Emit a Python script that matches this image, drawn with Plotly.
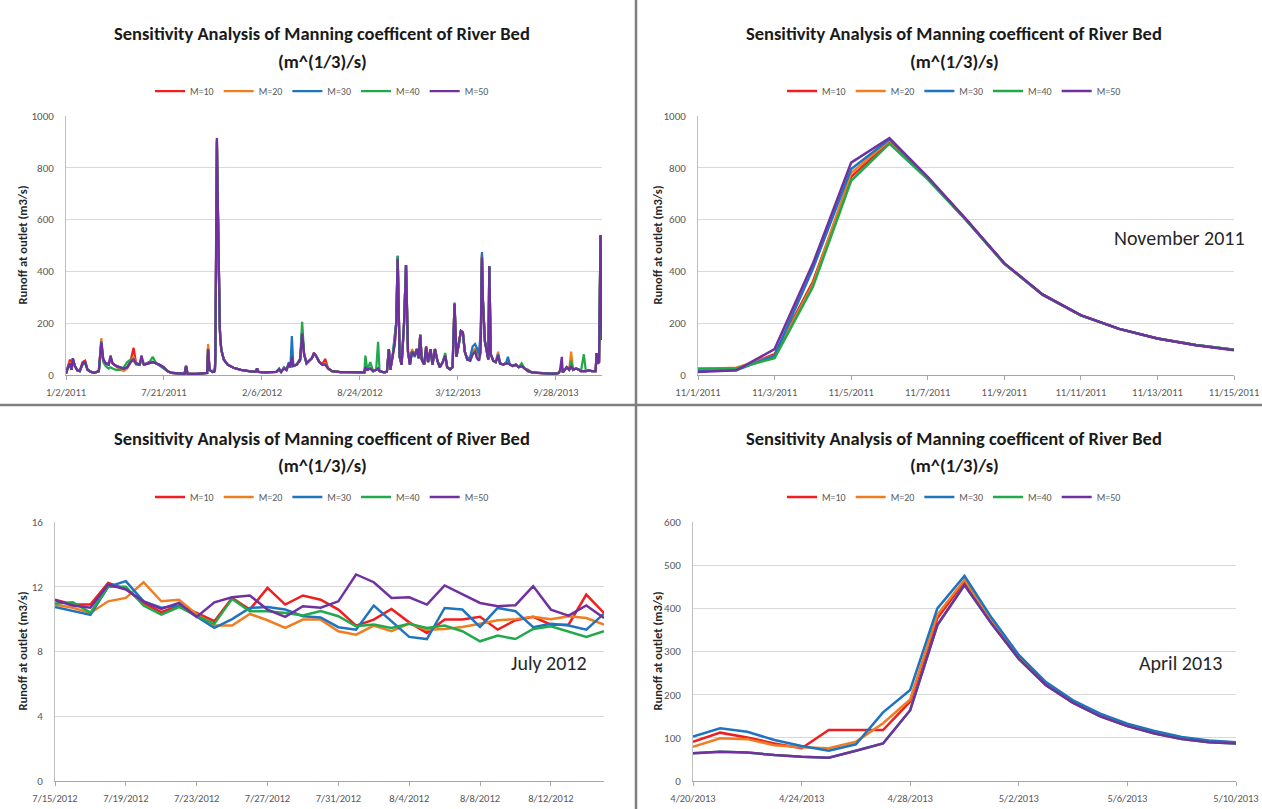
import plotly.graph_objects as go

W, H = 1262, 809

series_names = ["M=10", "M=20", "M=30", "M=40", "M=50"]
series_colors = ["#f01e1e", "#ef7d22", "#1f74c0", "#22a94b", "#7030a0"]

title_line1 = "Sensitivity Analysis of Manning coefficent of River Bed"
title_line2 = "(m^(1/3)/s)"
y_title = "Runoff at outlet (m3/s)"
panel_notes = ["", "November 2011", "July 2012", "April 2013"]

# ---------------- Panel 1: whole record 2011-2013 ----------------
p1_dates = [
    "2011-01-02", "2011-01-06", "2011-01-10", "2011-01-13", "2011-01-16", "2011-01-20", "2011-01-25", "2011-01-30", "2011-02-05", "2011-02-10",
    "2011-02-15", "2011-02-22", "2011-03-01", "2011-03-10", "2011-03-15", "2011-03-19", "2011-03-24", "2011-03-30", "2011-04-03", "2011-04-07",
    "2011-04-14", "2011-04-22", "2011-04-30", "2011-05-07", "2011-05-14", "2011-05-20", "2011-05-25", "2011-06-01", "2011-06-05", "2011-06-10",
    "2011-06-20", "2011-06-28", "2011-07-05", "2011-07-12", "2011-07-20", "2011-07-28", "2011-08-05", "2011-08-20", "2011-09-01", "2011-09-04",
    "2011-09-07", "2011-09-25", "2011-10-10", "2011-10-17", "2011-10-19", "2011-10-22", "2011-10-28", "2011-11-01", "2011-11-02", "2011-11-03",
    "2011-11-04", "2011-11-05", "2011-11-06", "2011-11-07", "2011-11-08", "2011-11-09", "2011-11-10", "2011-11-11", "2011-11-12", "2011-11-13",
    "2011-11-14", "2011-11-15", "2011-11-20", "2011-11-28", "2011-12-10", "2011-12-25", "2012-01-10", "2012-01-24", "2012-01-27", "2012-01-30",
    "2012-02-12", "2012-02-28", "2012-03-06", "2012-03-12", "2012-03-16", "2012-03-22", "2012-03-27", "2012-04-01", "2012-04-04", "2012-04-07",
    "2012-04-10", "2012-04-17", "2012-04-24", "2012-04-28", "2012-05-02", "2012-05-07", "2012-05-13", "2012-05-18", "2012-05-22", "2012-05-26",
    "2012-06-02", "2012-06-08", "2012-06-14", "2012-06-20", "2012-06-28", "2012-07-06", "2012-07-15", "2012-08-01", "2012-08-15", "2012-08-28",
    "2012-09-02", "2012-09-04", "2012-09-08", "2012-09-14", "2012-09-20", "2012-09-26", "2012-09-30", "2012-10-03", "2012-10-12", "2012-10-18",
    "2012-10-22", "2012-10-25", "2012-10-30", "2012-11-03", "2012-11-06", "2012-11-09", "2012-11-13", "2012-11-17", "2012-11-22", "2012-11-26",
    "2012-11-30", "2012-12-04", "2012-12-08", "2012-12-14", "2012-12-18", "2012-12-22", "2012-12-25", "2012-12-28", "2013-01-02", "2013-01-06",
    "2013-01-10", "2013-01-15", "2013-01-19", "2013-01-24", "2013-01-29", "2013-02-03", "2013-02-09", "2013-02-14", "2013-02-18", "2013-02-24",
    "2013-03-01", "2013-03-05", "2013-03-09", "2013-03-14", "2013-03-18", "2013-03-22", "2013-03-26", "2013-03-31", "2013-04-06", "2013-04-11",
    "2013-04-16", "2013-04-20", "2013-04-24", "2013-04-27", "2013-04-28", "2013-04-29", "2013-04-30", "2013-05-02", "2013-05-04", "2013-05-06",
    "2013-05-10", "2013-05-13", "2013-05-15", "2013-05-18", "2013-05-23", "2013-05-28", "2013-06-02", "2013-06-06", "2013-06-12", "2013-06-18",
    "2013-06-22", "2013-06-26", "2013-07-02", "2013-07-08", "2013-07-14", "2013-07-20", "2013-07-26", "2013-08-02", "2013-08-10", "2013-08-20",
    "2013-09-01", "2013-09-15", "2013-09-28", "2013-10-03", "2013-10-06", "2013-10-10", "2013-10-12", "2013-10-16", "2013-10-20", "2013-10-25",
    "2013-10-29", "2013-11-02", "2013-11-08", "2013-11-14", "2013-11-18", "2013-11-24", "2013-11-28", "2013-12-04", "2013-12-10", "2013-12-18",
    "2013-12-20", "2013-12-22", "2013-12-25", "2013-12-28", "2013-12-31",
]
p1_m10 = [
    5, 35, 60, 20, 60, 35, 18, 15, 50, 55,
    20, 12, 8, 15, 120, 60, 45, 45, 60, 45,
    35, 25, 20, 30, 55, 105, 45, 40, 60, 40,
    50, 50, 45, 40, 30, 15, 8, 5, 5, 35,
    5, 4, 5, 8, 105, 20, 12, 18, 22, 80,
    360, 765, 900, 760, 600, 430, 310, 230, 178, 141,
    116, 97, 60, 40, 28, 20, 15, 12, 25, 12,
    10, 10, 12, 22, 12, 25, 20, 45, 30, 75,
    35, 40, 60, 165, 80, 45, 55, 65, 85, 75,
    50, 40, 62, 25, 15, 12, 11, 11, 10, 8,
    10, 30, 20, 25, 15, 20, 25, 15, 10, 12,
    100, 20, 80, 120, 200, 450, 70, 40, 200, 425,
    90, 40, 90, 75, 100, 65, 155, 60, 40, 110,
    50, 100, 40, 100, 55, 30, 50, 75, 30, 22,
    30, 275, 70, 120, 170, 165, 90, 60, 60, 90,
    100, 92, 76, 118, 184, 377, 462, 286, 184, 130,
    89, 60, 420, 80, 55, 50, 75, 45, 40, 45,
    45, 40, 35, 40, 30, 35, 25, 20, 10, 8,
    6, 5, 5, 8, 15, 30, 10, 20, 30, 20,
    35, 20, 25, 20, 15, 15, 15, 18, 15, 15,
    85, 45, 50, 540, 135,
]
p1_m20 = [
    5, 30, 50, 20, 60, 35, 18, 15, 45, 50,
    20, 12, 8, 15, 142, 60, 45, 40, 60, 45,
    35, 20, 15, 25, 50, 70, 45, 40, 60, 40,
    45, 50, 45, 40, 30, 15, 8, 5, 5, 35,
    5, 4, 5, 8, 120, 20, 12, 22, 28, 75,
    350, 780, 905, 760, 600, 430, 310, 230, 178, 141,
    116, 97, 60, 40, 28, 20, 15, 12, 25, 12,
    10, 10, 12, 22, 12, 25, 20, 45, 30, 75,
    35, 40, 60, 165, 80, 45, 55, 65, 85, 75,
    50, 40, 45, 25, 15, 12, 11, 11, 10, 8,
    10, 30, 20, 25, 15, 20, 25, 15, 10, 12,
    100, 20, 80, 120, 200, 450, 70, 40, 200, 425,
    90, 40, 100, 80, 100, 65, 155, 60, 40, 110,
    50, 100, 40, 100, 55, 30, 50, 80, 30, 22,
    30, 275, 70, 120, 170, 165, 90, 60, 60, 90,
    100, 80, 78, 134, 189, 385, 466, 287, 184, 130,
    89, 60, 420, 80, 55, 50, 90, 45, 40, 45,
    45, 40, 35, 40, 30, 35, 25, 15, 10, 8,
    6, 5, 5, 8, 15, 30, 10, 20, 30, 20,
    90, 20, 25, 20, 15, 15, 15, 18, 15, 15,
    85, 45, 50, 540, 135,
]
p1_m30 = [
    5, 30, 45, 20, 65, 35, 18, 15, 45, 50,
    20, 12, 8, 15, 130, 60, 45, 40, 70, 45,
    35, 30, 25, 30, 50, 60, 45, 40, 60, 40,
    45, 50, 45, 35, 25, 15, 8, 5, 5, 35,
    5, 4, 5, 8, 100, 20, 12, 15, 18, 75,
    410, 795, 910, 762, 600, 430, 310, 230, 178, 141,
    116, 97, 60, 40, 28, 20, 15, 12, 25, 12,
    10, 10, 12, 25, 12, 30, 20, 50, 30, 150,
    35, 40, 55, 170, 80, 45, 55, 65, 80, 75,
    50, 40, 40, 25, 15, 12, 11, 11, 10, 8,
    10, 30, 20, 25, 15, 20, 25, 15, 10, 12,
    100, 20, 80, 150, 200, 460, 70, 40, 200, 425,
    90, 40, 85, 70, 100, 65, 155, 60, 40, 100,
    50, 100, 40, 100, 55, 30, 50, 75, 30, 22,
    30, 280, 70, 120, 170, 165, 90, 60, 70, 110,
    120, 103, 81, 159, 211, 400, 475, 290, 186, 133,
    92, 60, 420, 80, 55, 50, 80, 45, 40, 45,
    70, 40, 35, 40, 30, 35, 25, 15, 10, 8,
    6, 5, 5, 8, 15, 30, 10, 20, 30, 20,
    35, 20, 25, 20, 15, 15, 15, 18, 15, 15,
    85, 45, 50, 540, 135,
]
p1_m40 = [
    5, 28, 40, 20, 60, 35, 18, 15, 40, 45,
    20, 12, 8, 15, 110, 50, 35, 25, 30, 25,
    20, 20, 30, 50, 60, 55, 40, 40, 55, 40,
    45, 70, 45, 40, 30, 15, 8, 5, 5, 35,
    5, 4, 5, 8, 95, 20, 12, 25, 25, 65,
    340, 750, 893, 755, 598, 430, 310, 230, 178, 141,
    116, 97, 60, 40, 28, 20, 15, 12, 25, 12,
    10, 10, 12, 20, 12, 28, 20, 40, 30, 70,
    35, 40, 65, 205, 80, 45, 55, 65, 80, 75,
    50, 40, 40, 25, 15, 12, 11, 11, 10, 8,
    10, 75, 20, 50, 15, 20, 128, 15, 10, 12,
    100, 20, 80, 150, 200, 460, 70, 40, 200, 425,
    90, 40, 90, 80, 100, 65, 155, 60, 40, 105,
    50, 100, 40, 100, 55, 30, 50, 85, 30, 22,
    30, 270, 70, 120, 170, 165, 90, 60, 55, 80,
    90, 65, 56, 87, 164, 361, 454, 283, 184, 130,
    89, 60, 420, 80, 55, 50, 70, 45, 40, 45,
    45, 40, 35, 40, 30, 45, 25, 15, 10, 8,
    6, 5, 5, 8, 15, 30, 10, 20, 30, 20,
    55, 20, 25, 20, 15, 80, 15, 18, 15, 15,
    85, 45, 50, 540, 135,
]
p1_m50 = [
    5, 30, 45, 20, 65, 35, 18, 15, 45, 50,
    20, 12, 8, 15, 125, 60, 45, 40, 75, 45,
    35, 30, 25, 30, 50, 60, 45, 40, 75, 40,
    45, 50, 45, 40, 30, 15, 8, 5, 5, 35,
    5, 4, 5, 8, 100, 20, 12, 12, 18, 100,
    430, 820, 915, 765, 602, 430, 310, 230, 178, 141,
    116, 97, 60, 40, 28, 20, 15, 12, 25, 12,
    10, 10, 12, 22, 12, 25, 20, 45, 30, 70,
    35, 40, 60, 160, 80, 45, 55, 65, 85, 75,
    50, 40, 40, 25, 15, 12, 11, 11, 10, 8,
    10, 30, 20, 25, 15, 20, 25, 15, 10, 12,
    100, 20, 80, 120, 200, 450, 70, 40, 200, 425,
    90, 40, 90, 75, 100, 65, 155, 60, 40, 110,
    50, 100, 40, 100, 55, 30, 50, 75, 30, 22,
    30, 275, 70, 120, 170, 165, 90, 60, 55, 80,
    90, 65, 56, 87, 164, 361, 454, 283, 184, 130,
    89, 60, 420, 80, 55, 50, 75, 45, 40, 45,
    45, 40, 35, 40, 30, 35, 25, 15, 10, 8,
    6, 5, 5, 8, 15, 70, 10, 20, 30, 20,
    35, 20, 25, 20, 15, 15, 15, 18, 15, 15,
    85, 45, 50, 540, 135,
]
p1_tickvals = ["2011-01-02", "2011-07-21", "2012-02-06", "2012-08-24", "2013-03-12", "2013-09-28"]
p1_ticktext = ["1/2/2011", "7/21/2011", "2/6/2012", "8/24/2012", "3/12/2013", "9/28/2013"]

# ---------------- Panel 2: November 2011 ----------------
p2_dates = ["2011-11-01", "2011-11-02", "2011-11-03", "2011-11-04", "2011-11-05", "2011-11-06", "2011-11-07", "2011-11-08",
            "2011-11-09", "2011-11-10", "2011-11-11", "2011-11-12", "2011-11-13", "2011-11-14", "2011-11-15"]
p2_m10 = [18, 22, 80, 360, 765, 900, 760, 600, 430, 310, 230, 178, 141, 116, 97]
p2_m20 = [22, 28, 75, 350, 780, 905, 760, 600, 430, 310, 230, 178, 141, 116, 97]
p2_m30 = [15, 18, 75, 410, 795, 910, 762, 600, 430, 310, 230, 178, 141, 116, 97]
p2_m40 = [25, 25, 65, 340, 750, 893, 755, 598, 430, 310, 230, 178, 141, 116, 97]
p2_m50 = [12, 18, 100, 430, 820, 915, 765, 602, 432, 311, 231, 178, 141, 115, 96]
p2_tickvals = ["2011-11-01", "2011-11-03", "2011-11-05", "2011-11-07", "2011-11-09", "2011-11-11", "2011-11-13", "2011-11-15"]
p2_ticktext = ["11/1/2011", "11/3/2011", "11/5/2011", "11/7/2011", "11/9/2011", "11/11/2011", "11/13/2011", "11/15/2011"]

# ---------------- Panel 3: July 2012 ----------------
p3_dates = ["2012-07-15", "2012-07-16", "2012-07-17", "2012-07-18", "2012-07-19", "2012-07-20", "2012-07-21", "2012-07-22",
            "2012-07-23", "2012-07-24", "2012-07-25", "2012-07-26", "2012-07-27", "2012-07-28", "2012-07-29", "2012-07-30",
            "2012-07-31", "2012-08-01", "2012-08-02", "2012-08-03", "2012-08-04", "2012-08-05", "2012-08-06", "2012-08-07",
            "2012-08-08", "2012-08-09", "2012-08-10", "2012-08-11", "2012-08-12", "2012-08-13", "2012-08-14", "2012-08-15"]
p3_m10 = [11.2, 10.9, 10.9, 12.24, 11.87, 11.0, 10.43, 10.84, 10.38, 9.87, 11.31, 10.59, 11.93, 10.9, 11.46, 11.2,
          10.59, 9.6, 9.97, 10.63, 9.8, 9.15, 9.97, 9.97, 10.14, 9.35, 9.93, 10.14, 9.66, 9.66, 11.52, 10.38]
p3_m20 = [10.9, 10.7, 10.38, 11.1, 11.31, 12.28, 11.1, 11.2, 10.3, 9.6, 9.6, 10.32, 9.93, 9.46, 9.97, 9.97,
          9.25, 9.04, 9.6, 9.25, 9.72, 9.35, 9.39, 9.52, 9.72, 9.93, 10.0, 10.14, 10.0, 10.18, 10.07, 9.66]
p3_m30 = [10.75, 10.5, 10.26, 12.0, 12.35, 11.1, 10.7, 10.84, 10.13, 9.46, 10.0, 10.69, 10.75, 10.59, 10.18, 10.1,
          9.5, 9.35, 10.84, 9.87, 8.9, 8.77, 10.69, 10.59, 9.52, 10.69, 10.49, 9.5, 9.72, 9.6, 9.35, 10.34]
p3_m40 = [10.96, 11.04, 10.4, 12.0, 12.0, 10.84, 10.28, 10.75, 10.2, 9.72, 11.25, 10.49, 10.49, 10.38, 10.22, 10.5,
          10.18, 9.56, 9.66, 9.46, 9.72, 9.46, 9.6, 9.25, 8.63, 8.98, 8.77, 9.39, 9.56, 9.25, 8.9, 9.25]
p3_m50 = [11.17, 10.84, 10.7, 12.14, 11.83, 11.1, 10.63, 11.0, 10.14, 11.04, 11.35, 11.46, 10.59, 10.14, 10.8, 10.7,
          11.1, 12.76, 12.28, 11.31, 11.35, 10.9, 12.08, 11.52, 11.0, 10.8, 10.86, 12.04, 10.59, 10.22, 10.84, 10.07]
p3_tickvals = ["2012-07-15", "2012-07-19", "2012-07-23", "2012-07-27", "2012-07-31", "2012-08-04", "2012-08-08", "2012-08-12"]
p3_ticktext = ["7/15/2012", "7/19/2012", "7/23/2012", "7/27/2012", "7/31/2012", "8/4/2012", "8/8/2012", "8/12/2012"]

# ---------------- Panel 4: April 2013 ----------------
p4_dates = ["2013-04-20", "2013-04-21", "2013-04-22", "2013-04-23", "2013-04-24", "2013-04-25", "2013-04-26",
            "2013-04-27", "2013-04-28", "2013-04-29", "2013-04-30", "2013-05-01", "2013-05-02", "2013-05-03",
            "2013-05-04", "2013-05-05", "2013-05-06", "2013-05-07", "2013-05-08", "2013-05-09", "2013-05-10"]
p4_m10 = [91, 112, 101, 87, 76, 118, 118, 118, 184, 377, 462, 370, 286, 225, 183, 152, 129, 112, 99, 92, 88]
p4_m20 = [79, 99, 97, 83, 78, 76, 91, 134, 189, 385, 466, 372, 287, 226, 184, 153, 130, 113, 100, 92, 89]
p4_m30 = [103, 122, 114, 95, 81, 70, 85, 159, 211, 400, 475, 378, 292, 229, 187, 156, 133, 116, 102, 94, 90]
p4_m40 = [64, 68, 66, 60, 56, 54, 70, 87, 164, 361, 454, 364, 283, 222, 181, 150, 127, 110, 97, 90, 87]
p4_m50 = [64, 68, 66, 60, 56, 54, 70, 87, 164, 361, 454, 364, 283, 222, 181, 150, 127, 110, 97, 90, 87]
p4_tickvals = ["2013-04-20", "2013-04-24", "2013-04-28", "2013-05-02", "2013-05-06", "2013-05-10"]
p4_ticktext = ["4/20/2013", "4/24/2013", "4/28/2013", "5/2/2013", "5/6/2013", "5/10/2013"]


def PX(x):
    return x / W


def PY(y):
    return 1 - y / H


FONT = "Carlito, Lato, 'Open Sans', sans-serif"

panels = [
    dict(dates=p1_dates, vals=[p1_m10, p1_m20, p1_m30, p1_m40, p1_m50], tv=p1_tickvals, tt=p1_ticktext,
         yr=[0, 1000], dt=200, xpx=(66, 602), ypx=(116, 375), cx=322, t1=33, t2=62, lg=91, ytx=22, lw=2.25),
    dict(dates=p2_dates, vals=[p2_m10, p2_m20, p2_m30, p2_m40, p2_m50], tv=p2_tickvals, tt=p2_ticktext,
         yr=[0, 1000], dt=200, xpx=(698, 1234), ypx=(116, 375), cx=954, t1=33, t2=62, lg=91, ytx=657,
         note=(1179, 238), lw=2.5),
    dict(dates=p3_dates, vals=[p3_m10, p3_m20, p3_m30, p3_m40, p3_m50], tv=p3_tickvals, tt=p3_ticktext,
         yr=[0, 16], dt=4, xpx=(55, 604), ypx=(522, 781), cx=322, t1=438, t2=466, lg=497, ytx=22,
         note=(549, 663), lw=2.5),
    dict(dates=p4_dates, vals=[p4_m10, p4_m20, p4_m30, p4_m40, p4_m50], tv=p4_tickvals, tt=p4_ticktext,
         yr=[0, 600], dt=100, xpx=(693, 1236), ypx=(522, 781), cx=954, t1=438, t2=466, lg=497, ytx=657,
         note=(1180, 663), lw=2.5),
]

fig = go.Figure()
annotations = []
layout_updates = {}

for i, p in enumerate(panels):
    k = "" if i == 0 else str(i + 1)
    for j in range(5):
        fig.add_trace(go.Scatter(
            x=p["dates"], y=p["vals"][j], name=series_names[j], mode="lines",
            line=dict(color=series_colors[j], width=p["lw"]),
            xaxis="x" + k, yaxis="y" + k, legend="legend" + k,
        ))
    layout_updates["xaxis" + k] = dict(
        domain=[PX(p["xpx"][0]), PX(p["xpx"][1])], anchor="y" + k, type="date",
        range=[p["dates"][0], p["dates"][-1]], automargin=False,
        tickmode="array", tickvals=p["tv"], ticktext=p["tt"],
        showgrid=False, zeroline=False, showline=True, linecolor="#a6a6a6", linewidth=1,
        ticks="outside", ticklen=4, tickcolor="#a6a6a6", ticklabelstandoff=3,
        tickfont=dict(family=FONT, size=10.5, color="#595959"),
    )
    layout_updates["yaxis" + k] = dict(
        domain=[PY(p["ypx"][1]), PY(p["ypx"][0])], anchor="x" + k, automargin=False,
        range=p["yr"], dtick=p["dt"], tick0=0,
        showgrid=True, gridcolor="#d9d9d9", gridwidth=1, zeroline=False,
        showline=True, linecolor="#bfbfbf", linewidth=1, ticks="", ticklabelstandoff=9,
        tickfont=dict(family=FONT, size=11, color="#595959"),
    )
    layout_updates["legend" + k] = dict(
        orientation="h", x=PX(p["cx"]), y=PY(p["lg"]), xanchor="center", yanchor="middle",
        bgcolor="rgba(0,0,0,0)", font=dict(family=FONT, size=10, color="#595959"),
        itemwidth=30, tracegroupgap=0,
    )
    annotations.append(dict(text=title_line1, x=PX(p["cx"]), y=PY(p["t1"]), xref="paper", yref="paper",
                            showarrow=False, xanchor="center", yanchor="middle",
                            font=dict(family=FONT, size=18.5, color="#1a1a1a", weight=700)))
    annotations.append(dict(text=title_line2, x=PX(p["cx"]), y=PY(p["t2"]), xref="paper", yref="paper",
                            showarrow=False, xanchor="center", yanchor="middle",
                            font=dict(family=FONT, size=18.5, color="#1a1a1a", weight=700)))
    ymid = (p["ypx"][0] + p["ypx"][1]) / 2
    annotations.append(dict(text=y_title, x=PX(p["ytx"]), y=PY(ymid), xref="paper", yref="paper",
                            showarrow=False, xanchor="center", yanchor="middle", textangle=-90,
                            font=dict(family=FONT, size=12.5, color="#262626", weight=700)))
    if panel_notes[i]:
        nx, ny = p["note"]
        annotations.append(dict(text=panel_notes[i], x=PX(nx), y=PY(ny), xref="paper", yref="paper",
                                showarrow=False, xanchor="center", yanchor="middle",
                                font=dict(family=FONT, size=20, color="#262626")))

shapes = [
    dict(type="line", xref="paper", yref="paper", x0=PX(636), x1=PX(636), y0=0, y1=1,
         line=dict(color="#7f7f7f", width=2.5)),
    dict(type="line", xref="paper", yref="paper", x0=0, x1=1, y0=PY(405), y1=PY(405),
         line=dict(color="#7f7f7f", width=2.5)),
]

fig.update_layout(
    width=W, height=H, autosize=False,
    margin=dict(l=0, r=0, t=0, b=0, autoexpand=False),
    paper_bgcolor="white", plot_bgcolor="white",
    showlegend=True,
    annotations=annotations, shapes=shapes,
    font=dict(family=FONT, color="#595959"),
    **layout_updates,
)

fig.write_html(
    "out.html",
    config={"displayModeBar": False},
    post_script="document.body.style.margin='0';document.body.style.overflow='hidden';",
)
